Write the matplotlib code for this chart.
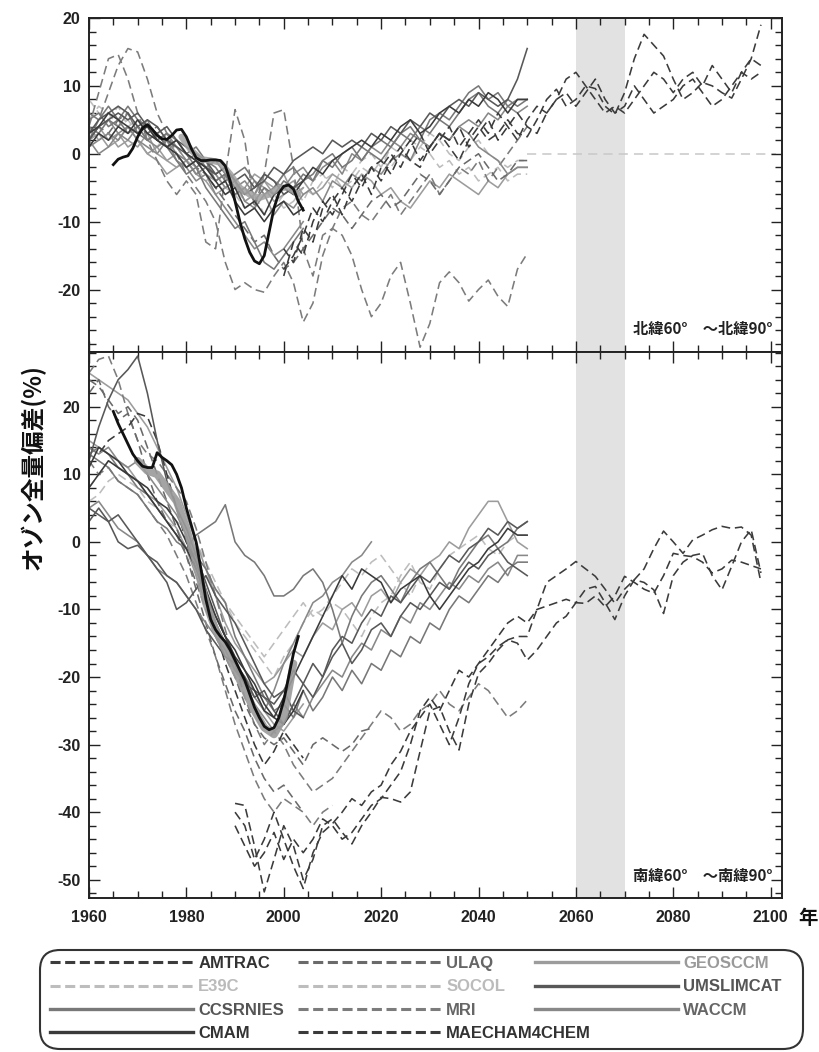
import numpy as np
import matplotlib
matplotlib.use("Agg")
import matplotlib.pyplot as plt
from matplotlib.lines import Line2D
from matplotlib.patches import FancyBboxPatch
from matplotlib.ticker import MultipleLocator

plt.rcParams['font.family'] = ['Liberation Sans', 'Noto Sans CJK JP', 'DejaVu Sans']
plt.rcParams['axes.unicode_minus'] = False

# ---------------- data ----------------
models = ["AMTRAC", "E39C", "CCSRNIES", "CMAM", "ULAQ", "SOCOL", "MRI",
          "MAECHAM4CHEM", "GEOSCCM", "UMSLIMCAT", "WACCM"]

# Northern hemisphere (60N-90N), 2-year steps
nh_s1 = [2,4,5,6,5,6,4,3,4,2, 1,0,-1,-3,-2,-4,-3,-5,-4,-2, -3,-1,0,1,0,2,1,2,1,3,
         2,4,3,5,4,6,5,7,8,7, 9,8,7,8,11,15.5]
nh_s2 = [4,3,5,4,6,3,2,3,1,2, 0,-2,-1,-4,-3,-6,-5,-7,-5,-6, -4,-5,-3,-4,-1,-2,0,1,-1,1,
         2,1,3,4,2,5,6,5,7,9, 10,8,9,7,8,8]
nh_s3 = [1,2,3,2,4,3,5,2,3,1, -1,0,-2,-3,-5,-4,-7,-8,-6,-9, -7,-8,-6,-5,-7,-4,-5,-3,-4,-2,
         -3,-1,0,-1,2,1,3,2,4,5, 4,6,5,7,6,7]
nh_s4 = [3,4,2,3,1,2,0,1,-1,0, -2,-1,-3,-4,-3,-5,-6,-4,-5,-7, -6,-5,-4,-6,-5,-3,-4,-5,-3,-4,
         -6,-5,-7,-8,-6,-4,-5,-3,-4,-5, -6,-4,-5,-3,-2,-2]
nh_s5 = [5,6,4,5,7,5,4,2,3,2, 0,1,-1,-2,-4,-3,-2,-4,-6,-5, -3,-2,-4,-3,-1,0,-2,-1,1,0,
         -1,1,3,2,4,3,5,4,6,8, 9,7,6,8,7,8]
nh_s6 = [2,0,1,3,2,4,2,1,2,0, -1,-3,-2,-1,-3,-5,-4,-6,-3,-4, -5,-3,-2,-4,-2,-1,-3,0,-1,1,
         0,2,1,3,2,1,3,2,4,3, 1,0,-1,-3,-2,-2]
nh_s7 = [3,4,6,5,4,3,4,2,1,2, 0,-1,-2,-4,-6,-5,-8,-7,-9,-6, -5,-6,-4,-2,-3,-1,0,1,2,1,
         3,2,4,5,3,4,6,7,6,8, 7,9,8,6,8,8]
nh_h1 = [3,5,6,7,6,4,5,4,2,1, 0,-1,-2,-3,-2,-4,-6,-5,-3,-4, -6,-5,-4]
nh_h2 = [1,3,2,4,3,5,3,2,1,0, -2,-1,-3,-5,-4,-7,-9,-8,-10,-8, -7,-9,-8]
nh_h3 = [4,2,3,1,2,1,3,0,-1,-2, -1,-3,-4,-6,-5,-4,-7,-6,-4,-5, -3,-6,-5]
nh_h4 = [2,4,5,3,4,2,1,0,2,-1, -2,-4,-3,-6,-8,-10,-12,-14,-13,-15, -14,-12,-10]
nh_h5 = [6,5,7,5,3,4,2,3,1,-1, -3,-2,-5,-7,-9,-11,-10,-13,-16,-17, -15,-13,-11]
nh_h6 = [2,3,1,2,4,2,0,-1,-3,-2, -1,-3,-2,-4,-3,-6,-5,-3,-4,-6, -5,-4,-6]
nh_d1 = [4,9,14,14.6,11,6,2,-1,-4,-6, -4,-6,-13,-14,-3,6.5,2,-8,-3,6, 6.5,-2,-14,-18,-12,-11,-12,-15,-20,-24,
         -22,-18,-16,-22,-28.5,-25,-19,-17.4,-19,-21.7, -20,-18.6,-21,-22.5,-17,-14.7]
nh_d2 = [2,5,9,13,15.5,15,11,6,3,0, -3,-5,-7,-10,-16,-20,-19,-20,-20.4,-18, -16,-19,-24.8,-22,-15,-11,-8,-7,-9,-10,
         -8,-6,-9,-7,-5,-3,-6,-4,-2,-3, -1,-4,-2,0,2,4]
nh_d3 = [2,4,3,5,6,4,3,4,2,1, 0,-2,-3,-5,-7,-9,-11,-13,-12,-15, -17,-16,-14,-12,-10,-8,-9,-11,-9,-7,
         -6,-8,-7,-5,-3,-4,-6,-4,-2,-1, 0,-2,-4,-3,-1,-1]
nh_d4 = [5,7,6,4,5,3,2,1,3,0, -1,-2,-4,-3,-5,-6,-8,-7,-5,-6, -8,-7,-5,-6,-4,-3,-5,-4,-2,-3,
         -1,-2,0,-1,1,0,-2,-1,-3,-2, -4,-3,-2,-4,-3,-3]
nh_d5 = [8,6,5,7,4,5,3,4,2,1, -1,0,-2,-4,-6,-5,-7,-6,-9,-8, -6,-5,-7,-4,-3,-5,-2,-3,-1,0,
         -2,1,0,2,1,3,2,0,-1,1, 2,0,-1,-2,-1,-1]
nh_f1 = [-17,-15,-12,-8,-10,-7,-5,-7,-4,-2, -4,-1,1,-1,-2,1,3,1,-1,2, 4,2,3,5,3,2.5,5,8,9.5,7,
         8,10,9.6,7,5.8,9,14,17.6,16,14.4, 11,8,9,10.5,10,9,8.2,11,14,19]
nh_f2 = [-14,-16,-11,-13,-8,-6,-9,-5,-3,-6, -2,0,-2,1,3,0,2,4,1,3, 5,3,6,4,2,5,7,6,8,11,
         12,10,8,6,7,6,8,10,12,11, 9,11,12,10,13,11,9,12,14,13]
nh_f3 = [-18,-13,-15,-10,-7,-9,-6,-3,-5,-2, -1,-3,0,2,-1,1,3,2,4,1, 3,5,2,4,6,4,3,6,8,9,
         7,9,11,8,6,7,10,8,6,7, 8,10,11,9,7,8,10,12,11,12]

# Southern hemisphere (60S-90S), 2-year steps
sh_s1 = [13,12,11,9,8,7,5,3,2,0, -1,1,2,3,5.5,0,-2,-3,-5,-8, -8,-7,-5,-4,-6,-10,-15,-11,-8,-6,
         -5,-7,-9,-6,-4,-3,-5,-7,-4,-2, 0,1,-1,0,2,3]
sh_s2 = [12,17,21,24,25.5,27.5,22,15,9,5, 2,-2,-6,-10,-14,-18,-20,-23,-22,-25, -27,-24,-21,-18,-20,-16,-14,-15,-12,-10,
         -11,-8,-9,-7,-5,-6,-4,-2,-3,-1, 0,2,1,3,2,3]
sh_s3 = [25,24,23,22,21,19,17,14,11,8, 4,0,-4,-8,-12,-15,-17,-19,-21,-20, -18,-16,-17,-14,-12,-13,-10,-9,-11,-8,
         -7,-9,-6,-4,-5,-3,-2,0,-1,2, 4,6,6,3,0,-1]
sh_s4 = [3,5,3,0,-1,-0.5,-2,-4,-6,-10, -9,-7,-5,-8,-10,-12,-15,-18,-21,-23, -22,-19,-21,-23,-20,-17,-15,-18,-16,-13,
         -12,-14,-11,-9,-10,-8,-6,-7,-5,-3, -4,-2,-1,-3,-4,-5]
sh_s5 = [14,13,14,12,11,12,10,8,6,4, 1,-3,-8,-12,-15,-18,-21,-24,-26,-28, -27,-24,-26,-23,-21,-19,-20,-17,-15,-16,
         -13,-14,-11,-12,-9,-10,-8,-6,-7,-5, -6,-4,-3,-5,-2,-2]
sh_s6 = [13,14,13,11,10,8,7,5,3,1, -1,-2,-4,-7,-9,-14,-17,-20,-23,-25, -24,-26,-22,-25,-23,-20,-22,-19,-21,-18,
         -19,-16,-17,-14,-15,-12,-13,-10,-8,-9, -7,-5,-6,-4,-3,-3]
sh_s7 = [11,14,13,12,10,9,8,6,5,3, 0,-3,-7,-11,-14,-17,-19,-22,-25,-26, -23,-20,-17,-14,-11,-8,-5,-7,-4,-5,
         -6,-9,-7,-6,-5,-8,-10,-8,-6,-4, -3,-1,0,2,1,1]
sh_s8 = [5,6,4,2,1,0,-2,-4,-5,-6, -8,-10,-12,-14,-16,-19,-21,-23,-25,-22, -18,-15,-12,-9,-8,-6,-5,-3,-2,0]
sh_h1 = [8,10,12,11,10,9,7,5,3,1, -1,-4,-8,-11,-14,-16,-19,-21,-24,-26, -27,-25,-22]
sh_h2 = [15,14,13,12,11,9,7,6,4,2, -1,-5,-9,-12,-15,-18,-20,-22,-25,-27, -28,-26,-24]
sh_h3 = [5,4,3,4,2,0,-2,-3,-5,-6, -8,-10,-13,-15,-17,-18,-21,-22,-23,-24, -22,-25,-26]
sh_d1 = [8,10,12,11,10,9,8,6,5,3, 2,0,-3,-6,-9,-12,-14,-16,-18,-20, -17,-15,-12,-10,-11,-9,-10,-12,-14,-11,
         -9,-8,-5,-3,-6,-7,-4,-2,-1,0, 1,-1,-2,0,1,1]
sh_d2 = [6,7,9,10,9,8,6,5,3,2, -1,-3,-5,-7,-9,-11,-13,-15,-17,-15, -13,-11,-9,-11,-10,-8,-6,-4,-5,-3,
         -2,-4,-6,-8,-5]
sh_d3 = [25,27,27.5,24,19,15,13,12,10,8, 6,2,-3,-8,-13,-18,-23,-27,-30,-28, -30,-33,-35,-37,-36,-35,-33,-31,-29,-27,
         -25,-26,-28,-27,-25,-24,-22,-24,-25,-23, -21,-22,-24,-26,-25,-23.4]
sh_d4 = [22,24,20,18,19,15,10,6,3,1, -2,-6,-10,-14,-17,-20,-24,-27,-29,-30, -29,-31,-33,-30,-29,-30,-31,-30,-28,-27.6]
sh_d5 = [12,10,11,9,8,7,5,3,1,-2, -5,-9,-13,-17,-22,-27,-31,-35,-38,-40, -38,-39,-40,-42,-40,-39]
sh_d6 = [24,23,21,19,20,18,14,10,6,2, -2,-7,-12,-17,-21,-25,-28,-32,-35,-37, -36,-38,-40]
sh_d7 = [14,13,15,16,17,19,18.5,15,10,5, 0,-4,-8,-13,-18,-22,-26,-30,-33,-31, -28,-30,-32]
sh_f1 = [-38.7,-39,-45,-51.8,-47,-42,-45,-50,-47,-42, -41,-43,-44.7,-42,-40,-37.8,-38,-38.5,-37,-31,
         -25,-24.4,-28,-30.8,-24,-19.5,-18,-16,-14.5,-14, -14,-10,-6,-5,-4,-2.9,-4,-5.1,-7,-9.1,
         -7,-5.6,-4,-1,1.6,0,-1.7,0.3,1,1.8, 2.3,2,2.2,1,-6]
sh_f2 = [-40,-42,-47,-44,-40,-44,-48,-51.3,-46,-43, -41.7,-40,-38,-39,-37,-36,-33,-31,-28,-26,
         -24,-27,-30,-26,-21,-18,-17,-15.5,-14.5,-15, -17.5,-16,-14,-12,-11,-9,-7,-6.6,-9,-11.5,
         -8,-5.6,-6,-7.1,-10.6,-5,-3,-2,-1.7,-5, -7.1,-3.6,0,1.8,-4.6]
sh_f3 = [-42,-45,-48,-46,-43,-47,-44,-46,-44,-41, -42,-44,-43,-41,-39,-38,-36,-34,-30,-25,
         -23,-25,-22,-19,-20,-18,-16,-14,-12,-11, -12,-10,-9.5,-9,-8.5,-9,-9.1,-8,-9.6,-8,
         -5.1,-6,-7,-7.6,-5,-1.7,-2,-2.2,-3,-4.6, -4,-2.7,-3,-3.5,-4]

# observations (1-year steps, black) and thick grey reference (2-year steps)
obs_nh_start = 1965
obs_nh = [-1.6,-0.8,-0.5,-0.3,0.8,2.5,3.8,4.3,3.6,2.7, 2.2,2.1,2.7,3.5,3.6,2.5,0.8,-0.6,-1.0,-1.0,
          -0.9,-0.9,-1.0,-1.8,-4.0,-7.0,-10.0,-12.5,-14.5,-15.8, -16.2,-15.0,-11.5,-8.0,-5.8,-4.8,-4.6,-5.2,-7.0,-8.3]
obs_sh_start = 1965
obs_sh = [19.3,17.5,16,14.5,13,12,11.2,11,11,13.2, 12.5,12,11.4,10,8,5,2.5,0,-4,-8.5,
          -11.5,-13,-14,-14.8,-16,-17.5,-19,-20.5,-22.5,-24.5, -26,-27.3,-27.8,-27.5,-26,-23.5,-20,-16.5,-14]
grey_nh_start = 1979
grey_nh = [2.5,0.5,-0.8,-1.0,-1.3,-3,-5,-6,-6.5,-6,-5,-5,-6]
grey_sh_start = 1970
grey_sh = [12,10.5,10,8,6,2,-3,-9,-13,-16,-19,-22,-25,-27.5,-28.5,-26,-18]

future_ref_start, future_ref_end = 2050, 2101
band_start, band_end = 2060, 2070

nh_series = [
    (nh_d4, 1960, "E39C"), (nh_d5, 1960, "SOCOL"),
    (nh_s4, 1960, "GEOSCCM"), (nh_h3, 1960, "GEOSCCM"), (nh_h6, 1960, "GEOSCCM"),
    (nh_d1, 1960, "MRI"), (nh_d2, 1960, "MRI"), (nh_d3, 1960, "ULAQ"),
    (nh_s3, 1960, "WACCM"), (nh_s6, 1960, "WACCM"), (nh_h4, 1960, "WACCM"),
    (nh_s2, 1960, "CCSRNIES"), (nh_s5, 1960, "CCSRNIES"), (nh_h5, 1960, "CCSRNIES"),
    (nh_s1, 1960, "UMSLIMCAT"), (nh_h1, 1960, "UMSLIMCAT"),
    (nh_s7, 1960, "CMAM"), (nh_h2, 1960, "CMAM"),
    (nh_f1, 2000, "AMTRAC"), (nh_f2, 2000, "AMTRAC"), (nh_f3, 2000, "MAECHAM4CHEM"),
]
sh_series = [
    (sh_d1, 1960, "E39C"), (sh_d2, 1960, "SOCOL"),
    (sh_s3, 1960, "GEOSCCM"), (sh_h2, 1960, "GEOSCCM"),
    (sh_d3, 1960, "MRI"), (sh_d5, 1960, "MRI"), (sh_d4, 1960, "ULAQ"), (sh_d6, 1960, "ULAQ"),
    (sh_d7, 1960, "MAECHAM4CHEM"),
    (sh_s5, 1960, "WACCM"), (sh_s8, 1960, "WACCM"),
    (sh_s1, 1960, "CCSRNIES"), (sh_s6, 1960, "CCSRNIES"),
    (sh_s2, 1960, "UMSLIMCAT"), (sh_s4, 1960, "UMSLIMCAT"), (sh_h3, 1960, "UMSLIMCAT"),
    (sh_s7, 1960, "CMAM"), (sh_h1, 1960, "CMAM"),
    (sh_f1, 1990, "AMTRAC"), (sh_f2, 1990, "AMTRAC"), (sh_f3, 1990, "MAECHAM4CHEM"),
]

# ---------------- styles ----------------
STYLE = {
    "AMTRAC": ("#3c3c3c", True, "#333333"),
    "ULAQ": ("#6a6a6a", True, "#666666"),
    "GEOSCCM": ("#9c9c9c", False, "#9a9a9a"),
    "E39C": ("#bdbdbd", True, "#bbbbbb"),
    "SOCOL": ("#bdbdbd", True, "#bbbbbb"),
    "UMSLIMCAT": ("#585858", False, "#555555"),
    "CCSRNIES": ("#787878", False, "#555555"),
    "MRI": ("#7c7c7c", True, "#666666"),
    "WACCM": ("#888888", False, "#666666"),
    "CMAM": ("#3a3a3a", False, "#333333"),
    "MAECHAM4CHEM": ("#3a3a3a", True, "#333333"),
}
LW = 1.15
DASH = (5.5, 3.0)


def draw(ax, vals, start, model, step=2, z=2):
    color, dashed, _ = STYLE[model]
    yrs = start + step * np.arange(len(vals))
    kw = dict(color=color, lw=LW, zorder=z, solid_joinstyle='round', dash_joinstyle='round')
    if dashed:
        ax.plot(yrs, vals, ls=(0, DASH), **kw)
    else:
        ax.plot(yrs, vals, **kw)


fig = plt.figure(figsize=(8.2, 10.52), dpi=100)
ax1 = fig.add_axes([0.1085, 0.6654, 0.845, 0.3175])
ax2 = fig.add_axes([0.1085, 0.1464, 0.845, 0.519])

for ax, series, ylim in [(ax1, nh_series, (-29.2, 20)),
                         (ax2, sh_series, (-52.7, 28.1))]:
    ax.axvspan(band_start, band_end, color="#e2e2e2", lw=0, zorder=0)
    for vals, start, model in series:
        draw(ax, vals, start, model)
    ax.set_xlim(1960, 2102.3)
    ax.set_ylim(*ylim)
    ax.xaxis.set_major_locator(MultipleLocator(20))
    ax.xaxis.set_minor_locator(MultipleLocator(5))
    ax.yaxis.set_major_locator(MultipleLocator(10))
    ax.yaxis.set_minor_locator(MultipleLocator(2))
    ax.tick_params(which='both', direction='in', top=True, right=True,
                   colors='#222222', width=1.0)
    ax.tick_params(which='major', length=8, labelsize=11.5, pad=6)
    ax.tick_params(which='minor', length=5)
    ax.tick_params(axis='x', which='major', pad=9)
    for sp in ax.spines.values():
        sp.set_linewidth(1.4)
        sp.set_color('#222222')

# thick grey reference + black observations
ax1.plot(grey_nh_start + 2 * np.arange(len(grey_nh)), grey_nh, color="#a0a0a0", lw=4.5,
         solid_capstyle='round', zorder=4, alpha=0.85)
ax2.plot(grey_sh_start + 2 * np.arange(len(grey_sh)), grey_sh, color="#9a9a9a", lw=5.5,
         solid_capstyle='round', zorder=4, alpha=0.9)
ax1.plot(obs_nh_start + np.arange(len(obs_nh)), obs_nh, color="#111111", lw=2.0, zorder=5)
ax2.plot(obs_sh_start + np.arange(len(obs_sh)), obs_sh, color="#111111", lw=2.0, zorder=5)

ax1.hlines(0, future_ref_start, future_ref_end, colors="#c8c8c8", lw=1.1,
           linestyles=(0, (6, 4)), zorder=1)

ax1.tick_params(axis='x', labelbottom=False)
ax1.set_yticks([-20, -10, 0, 10, 20])
for ax in (ax1, ax2):
    for lab in ax.get_xticklabels() + ax.get_yticklabels():
        lab.set_fontweight('bold')

jp = ['Noto Sans CJK JP', 'DejaVu Sans']
ax1.text(0.987, 0.045, "北緯60°\u3000～北緯90°", transform=ax1.transAxes, ha='right', va='bottom',
         fontsize=11, fontweight='bold', family=jp, color='#222222')
ax2.text(0.987, 0.025, "南緯60°\u3000～南緯90°", transform=ax2.transAxes, ha='right', va='bottom',
         fontsize=11, fontweight='bold', family=jp, color='#222222')

fig.text(0.040, 0.556, "オゾン全量偏差(%)", rotation=90, ha='center', va='center',
         fontsize=17, fontweight='bold', family=jp, color='#111111')
fig.text(808 / 820, 1 - 919 / 1052, "年", ha='center', va='center',
         fontsize=14, fontweight='bold', family=jp, color='#111111')

# ---------------- legend ----------------
box = FancyBboxPatch((0.40, 0.03), 7.63, 0.99, boxstyle="round,pad=0,rounding_size=0.2",
                     transform=fig.dpi_scale_trans, facecolor='white', edgecolor='#333333',
                     lw=1.5, zorder=0)
fig.patches.append(box)

columns = [["AMTRAC", "E39C", "CCSRNIES", "CMAM"],
           ["ULAQ", "SOCOL", "MRI", "MAECHAM4CHEM"],
           ["GEOSCCM", "UMSLIMCAT", "WACCM"]]
col_x = [50 / 820, 298 / 820, 535 / 820]
for names, x0 in zip(columns, col_x):
    handles = []
    for n in names:
        color, dashed, _ = STYLE[n]
        if dashed:
            handles.append(Line2D([], [], color=color, lw=2.2, ls=(0, (3.3, 1.5))))
        else:
            handles.append(Line2D([], [], color=color, lw=2.4))
    leg = fig.legend(handles, names, loc='upper left', bbox_to_anchor=(x0, 1 - 956 / 1052),
                     bbox_transform=fig.transFigure, frameon=False, borderpad=0,
                     borderaxespad=0, handlelength=8.6, handletextpad=0.3,
                     labelspacing=0.5, prop={'size': 12, 'weight': 'bold'})
    for t, n in zip(leg.get_texts(), names):
        t.set_color(STYLE[n][2])

fig.savefig("out.png", dpi=100)
